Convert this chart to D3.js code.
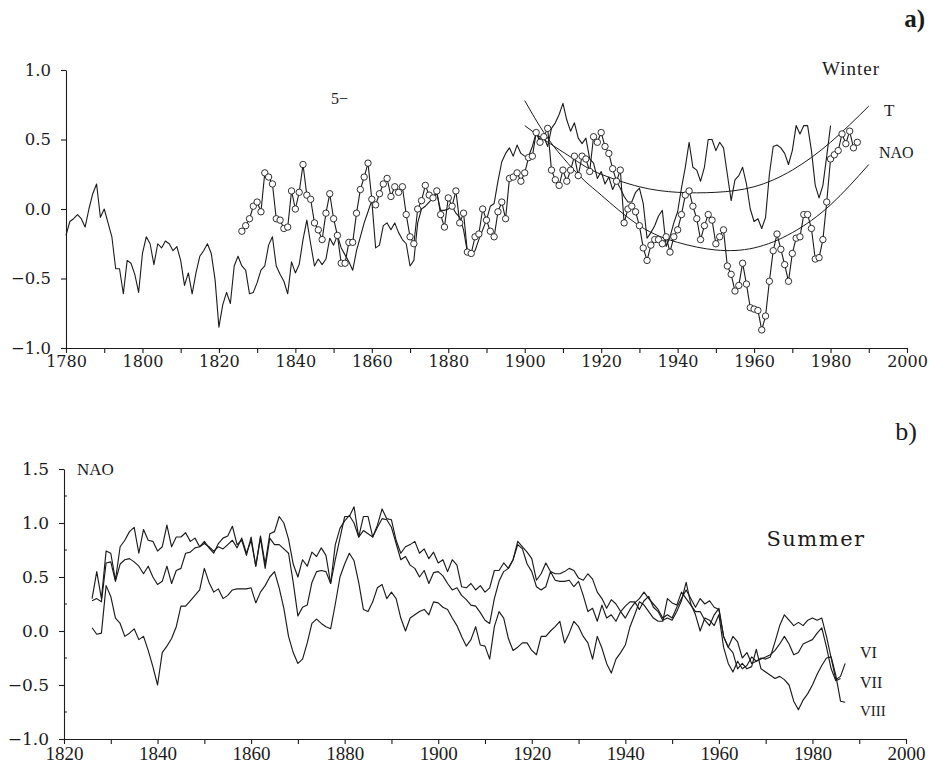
<!DOCTYPE html>
<html>
<head>
<meta charset="utf-8">
<script src="https://cdnjs.cloudflare.com/ajax/libs/d3/7.8.5/d3.min.js"></script>
<style>
body { margin: 0; background: #fff; }
</style>
</head>
<body>
<div id="chart"></div>
<script>
// ---------- panel a) winter ----------
var tStart = 1780;
var tValues = [
    -0.19, -0.09, -0.07, -0.04, -0.07, -0.13, 0.00, 0.11, 0.18, -0.06,
    0.00, -0.10, -0.20, -0.43, -0.43, -0.61, -0.37, -0.39, -0.47, -0.60,
    -0.32, -0.20, -0.25, -0.40, -0.25, -0.28, -0.23, -0.25, -0.30, -0.27,
    -0.37, -0.55, -0.46, -0.61, -0.46, -0.34, -0.30, -0.25, -0.32, -0.51,
    -0.85, -0.69, -0.60, -0.68, -0.41, -0.34, -0.41, -0.44, -0.61, -0.60,
    -0.53, -0.44, -0.41, -0.26, -0.20, -0.41, -0.47, -0.52, -0.61, -0.38,
    -0.46, -0.40, -0.22, -0.08, -0.25, -0.41, -0.36, -0.40, -0.36, -0.21,
    -0.26, -0.19, -0.28, -0.33, -0.38, -0.44, -0.30, -0.20, -0.10, -0.02,
    0.06, -0.28, -0.26, -0.12, -0.10, -0.15, -0.10, -0.17, -0.22, -0.25,
    -0.41, -0.37, -0.10, 0.00, 0.02, 0.05, 0.08, 0.11, -0.01, -0.01,
    0.00, 0.02, -0.03, -0.06, -0.15, -0.31, -0.33, -0.30, -0.22, -0.15,
    -0.08, 0.02, 0.04, 0.20, 0.34, 0.40, 0.44, 0.38, 0.46, 0.40,
    0.38, 0.38, 0.45, 0.55, 0.50, 0.52, 0.45, 0.58, 0.62, 0.68,
    0.76, 0.64, 0.56, 0.62, 0.51, 0.47, 0.51, 0.36, 0.33, 0.22,
    0.27, 0.18, 0.23, 0.14, 0.20, 0.15, 0.09, 0.05, 0.05, 0.12,
    0.15, 0.04, -0.21, -0.17, -0.12, -0.05, -0.01, -0.27, -0.20, -0.10,
    -0.02, 0.15, 0.30, 0.48, 0.30, 0.28, 0.20, 0.30, 0.50, 0.50,
    0.42, 0.48, 0.44, 0.25, 0.06, 0.21, 0.24, 0.30, 0.18, 0.00,
    -0.09, -0.07, -0.14, -0.06, 0.25, 0.45, 0.46, 0.44, 0.40, 0.32,
    0.42, 0.60, 0.54, 0.60, 0.60, 0.42, 0.17, 0.08, 0.17, 0.38,
    0.60
];

var naoStart = 1826;
var naoValues = [
    -0.16, -0.12, -0.07, 0.02,
    0.05, -0.02, 0.26, 0.23, 0.18, -0.07, -0.08, -0.14, -0.13, 0.13,
    0.00, 0.12, 0.32, 0.10, 0.07, -0.10, -0.15, -0.22, -0.03, 0.11,
    -0.07, -0.19, -0.39, -0.39, -0.24, -0.24, -0.03, 0.14, 0.23, 0.33,
    0.07, 0.03, 0.11, 0.18, 0.22, 0.09, 0.16, 0.12, 0.16, -0.04,
    -0.20, -0.25, 0.00, 0.06, 0.17, 0.10, 0.08, 0.13, -0.04, -0.13,
    0.08, 0.02, 0.13, -0.10, -0.03, -0.31, -0.32, -0.20, -0.18, 0.00,
    -0.08, -0.16, -0.20, -0.02, 0.05, -0.07, 0.22, 0.23, 0.26, 0.20,
    0.26, 0.37, 0.38, 0.55, 0.48, 0.52, 0.58, 0.28, 0.21, 0.17,
    0.28, 0.20, 0.28, 0.38, 0.24, 0.38, 0.36, 0.27, 0.52, 0.48,
    0.55, 0.45, 0.40, 0.29, 0.20, 0.28, -0.10, 0.00, 0.02, -0.02,
    -0.12, -0.28, -0.37, -0.26, -0.22, -0.22, -0.25, -0.20, -0.31, -0.20,
    -0.15, -0.04, 0.10, 0.13, 0.02, -0.07, -0.22, -0.12, -0.04, -0.08,
    -0.25, -0.20, -0.15, -0.41, -0.47, -0.59, -0.55, -0.39, -0.54, -0.71,
    -0.72, -0.73, -0.87, -0.77, -0.52, -0.30, -0.18, -0.29, -0.40, -0.52,
    -0.32, -0.21, -0.20, -0.04, -0.04, -0.14, -0.36, -0.35, -0.22, 0.05,
    0.36, 0.39, 0.42, 0.54, 0.47, 0.56, 0.44, 0.48
];

// trend curves
var tTrendYears = [1900, 1905, 1910, 1915, 1920, 1930, 1940, 1950, 1960, 1970, 1980, 1990];
var tTrendValues = [0.60, 0.50, 0.41, 0.32, 0.25, 0.16, 0.12, 0.12, 0.16, 0.28, 0.48, 0.74];
var naoTrendYears = [1900, 1905, 1910, 1915, 1920, 1930, 1940, 1950, 1960, 1970, 1980, 1990];
var naoTrendValues = [0.78, 0.55, 0.37, 0.22, 0.10, -0.12, -0.24, -0.295, -0.28, -0.17, 0.03, 0.32];

var aYearTicks = [1780, 1790, 1800, 1810, 1820, 1830, 1840, 1850, 1860, 1870, 1880,
    1890, 1900, 1910, 1920, 1930, 1940, 1950, 1960, 1970, 1980, 1990, 2000];
var aValueTicks = [-1.0, -0.5, 0.0, 0.5, 1.0];

// ---------- panel b) summer ----------
var sumStart = 1826;
var viValues = [
    0.30, 0.55, 0.30, 0.74,
    0.72, 0.47, 0.78, 0.84, 0.92, 0.96, 0.72, 0.94, 0.84, 0.83,
    0.74, 0.78, 0.98, 0.78, 0.87, 0.87, 0.91, 0.83, 0.86, 0.78,
    0.83, 0.77, 0.72, 0.81, 0.86, 0.88, 0.97, 0.80, 0.84, 0.70,
    0.87, 0.60, 0.88, 0.62, 0.90, 0.92, 1.06, 1.00, 0.85, 0.62,
    0.50, 0.66, 0.60, 0.73, 0.69, 0.77, 0.70, 0.44, 0.66, 0.86,
    1.06, 1.06, 1.15, 0.87, 1.06, 1.06, 0.87, 0.98, 1.13, 1.04,
    1.03, 0.84, 0.72, 0.78, 0.80, 0.83, 0.72, 0.76, 0.67, 0.73,
    0.63, 0.66, 0.55, 0.66, 0.61, 0.41, 0.40, 0.44, 0.38, 0.42,
    0.36, 0.40, 0.56, 0.56, 0.63, 0.58, 0.66, 0.83, 0.78, 0.73,
    0.67, 0.47, 0.53, 0.63, 0.55, 0.53, 0.53, 0.55, 0.58, 0.56,
    0.49, 0.47, 0.53, 0.48, 0.36, 0.30, 0.21, 0.29, 0.25, 0.18,
    0.12, 0.20, 0.26, 0.30, 0.36, 0.30, 0.25, 0.20, 0.12, 0.15,
    0.12, 0.22, 0.30, 0.38, 0.30, 0.22, 0.30, 0.25, 0.28, 0.22,
    0.20, -0.05, -0.15, -0.05, -0.10, -0.25, -0.20, -0.30, -0.28, -0.25,
    -0.26, -0.24, -0.10, 0.05, 0.15, 0.10, 0.05, 0.08, 0.05, 0.10,
    0.12, 0.10, 0.12, -0.05, -0.25, -0.45, -0.42, -0.30
];
var viiValues = [
    0.28, 0.30, 0.27, 0.63,
    0.64, 0.46, 0.62, 0.66, 0.67, 0.64, 0.60, 0.53, 0.60, 0.50,
    0.43, 0.46, 0.60, 0.44, 0.56, 0.58, 0.72, 0.73, 0.77, 0.78,
    0.81, 0.78, 0.74, 0.78, 0.76, 0.80, 0.84, 0.77, 0.86, 0.72,
    0.84, 0.60, 0.86, 0.58, 0.86, 0.80, 0.80, 0.76, 0.72, 0.45,
    0.14, 0.22, 0.24, 0.45, 0.55, 0.56, 0.55, 0.44, 0.80, 0.95,
    1.02, 1.07, 1.00, 0.87, 0.93, 0.90, 0.87, 0.96, 1.04, 1.03,
    0.96, 0.81, 0.66, 0.69, 0.61, 0.58, 0.50, 0.56, 0.44, 0.54,
    0.55, 0.51, 0.44, 0.38, 0.40, 0.33, 0.29, 0.24, 0.23, 0.17,
    0.10, 0.07, 0.30, 0.46, 0.55, 0.58, 0.66, 0.80, 0.76, 0.62,
    0.55, 0.41, 0.38, 0.41, 0.55, 0.47, 0.46, 0.46, 0.47, 0.41,
    0.46, 0.33, 0.18, 0.21, 0.09, 0.24, 0.12, 0.15, 0.09, 0.18,
    0.23, 0.27, 0.27, 0.20, 0.28, 0.32, 0.22, 0.18, 0.10, 0.12,
    0.10, 0.18, 0.28, 0.45, 0.25, 0.15, 0.00, 0.12, 0.10, 0.05,
    0.15, -0.15, -0.30, -0.38, -0.28, -0.35, -0.32, -0.24, -0.28, -0.26,
    -0.24, -0.22, -0.18, -0.12, -0.05, -0.12, -0.22, -0.20, -0.12, -0.10,
    -0.08, -0.02, 0.03, -0.15, -0.35, -0.46, -0.44
];
var viiiValues = [
    0.03, -0.03, -0.02, 0.42,
    0.32, 0.12, 0.07, -0.05, -0.02, 0.02, -0.08, -0.05, -0.18, -0.33,
    -0.50, -0.20, -0.14, -0.07, 0.04, 0.23, 0.23, 0.28, 0.33, 0.38,
    0.58, 0.45, 0.36, 0.39, 0.30, 0.33, 0.38, 0.39, 0.39, 0.39,
    0.40, 0.26, 0.36, 0.42, 0.50, 0.55, 0.40, 0.21, -0.05, -0.20,
    -0.30, -0.26, -0.11, 0.07, 0.11, 0.07, 0.04, 0.02, 0.25, 0.50,
    0.62, 0.72, 0.65, 0.45, 0.20, 0.18, 0.27, 0.40, 0.43, 0.30,
    0.36, 0.30, 0.12, 0.00, 0.12, 0.15, 0.18, 0.20, 0.15, 0.27,
    0.26, 0.22, 0.20, 0.12, 0.05, -0.05, -0.14, -0.08, 0.04, -0.13,
    -0.14, -0.26, 0.04, 0.18, 0.12, -0.07, -0.18, -0.15, -0.11, -0.11,
    -0.18, -0.22, -0.05, -0.05, 0.00, 0.04, 0.09, -0.11, -0.02, 0.09,
    0.04, -0.05, -0.11, -0.26, -0.05, -0.16, -0.30, -0.39, -0.26, -0.20,
    -0.13, 0.04, 0.15, 0.27, 0.24, 0.18, 0.12, 0.09, 0.09, 0.30,
    0.26, 0.24, 0.36, 0.30, 0.24, 0.18, 0.18, 0.10, 0.05, 0.15,
    0.21, -0.05, -0.15, -0.20, -0.35, -0.30, -0.35, -0.33, -0.17, -0.35,
    -0.38, -0.41, -0.44, -0.42, -0.45, -0.50, -0.65, -0.73, -0.64, -0.58,
    -0.50, -0.40, -0.32, -0.25, -0.24, -0.41, -0.65, -0.66
];

var bYearTicks = [1820, 1830, 1840, 1850, 1860, 1870, 1880, 1890, 1900, 1910,
    1920, 1930, 1940, 1950, 1960, 1970, 1980, 1990, 2000];
var bValueTicks = [-1.0, -0.5, 0.0, 0.5, 1.0, 1.5];
var bMinorTicks = [-0.75, -0.25, 0.25, 0.75, 1.25];

var ink = "#1b1b1b";
var serif = "'Liberation Serif', 'Times New Roman', serif";
var wideSerif = "'DejaVu Serif', serif";

var svg = d3.select("#chart").append("svg")
    .attr("width", 929)
    .attr("height", 778);
svg.append("rect").attr("width", 929).attr("height", 778).attr("fill", "#fff");

function toPoints(start, values) {
    return values.map(function(v, i) { return [start + i, v]; });
}

function zip(xs, ys) {
    return xs.map(function(x, i) { return [x, ys[i]]; });
}

function drawAxes(x, y, yearTicks, valueTicks, yearFont, yearSize, valueSize) {
    var xAxis = d3.axisBottom(x)
        .tickValues(yearTicks)
        .tickSize(5)
        .tickSizeOuter(0)
        .tickPadding(3)
        .tickFormat(function(d) { return d % 20 === 0 ? d : ""; });
    var gx = svg.append("g")
        .attr("transform", "translate(0," + y.range()[0] + ")")
        .call(xAxis);
    gx.selectAll("text").attr("font-family", yearFont).attr("font-size", yearSize).attr("fill", ink);

    var yAxis = d3.axisLeft(y)
        .tickValues(valueTicks)
        .tickSize(5)
        .tickSizeOuter(0)
        .tickPadding(10)
        .tickFormat(d3.format(".1f"));
    var gy = svg.append("g")
        .attr("transform", "translate(" + x.range()[0] + ",0)")
        .call(yAxis);
    gy.selectAll("text").attr("font-family", wideSerif).attr("font-size", valueSize).attr("fill", ink);

    svg.selectAll(".domain, .tick line").attr("stroke", ink).attr("stroke-width", 1.1);
    return gy;
}

function drawLine(x, y, pts, width, curve) {
    var line = d3.line()
        .x(function(d) { return x(d[0]); })
        .y(function(d) { return y(d[1]); });
    if (curve) line.curve(curve);
    svg.append("path")
        .datum(pts)
        .attr("d", line)
        .attr("fill", "none")
        .attr("stroke", ink)
        .attr("stroke-width", width)
        .attr("stroke-linejoin", "round");
}

function label(txt, x, y, size, opts) {
    opts = opts || {};
    return svg.append("text")
        .attr("x", x).attr("y", y)
        .attr("font-family", opts.family || serif)
        .attr("font-size", size)
        .attr("font-weight", opts.weight || "normal")
        .attr("letter-spacing", opts.spacing || 0)
        .attr("text-anchor", opts.anchor || "start")
        .attr("fill", ink)
        .text(txt);
}

// ###### PANEL A ######
var xa = d3.scaleLinear().domain([1780, 2000]).range([66, 907]);
var ya = d3.scaleLinear().domain([-1, 1]).range([348, 70]);
drawAxes(xa, ya, aYearTicks, aValueTicks, wideSerif, 16, 16.5);

drawLine(xa, ya, zip(tTrendYears, tTrendValues), 1, d3.curveNatural);
drawLine(xa, ya, zip(naoTrendYears, naoTrendValues), 1, d3.curveNatural);
drawLine(xa, ya, toPoints(tStart, tValues), 1.1);

var naoPts = toPoints(naoStart, naoValues);
drawLine(xa, ya, naoPts, 1.1);
svg.append("g").selectAll("circle")
    .data(naoPts)
    .enter().append("circle")
    .attr("cx", function(d) { return xa(d[0]); })
    .attr("cy", function(d) { return ya(d[1]); })
    .attr("r", 3.2)
    .attr("fill", "#fff")
    .attr("stroke", ink)
    .attr("stroke-width", 0.9);

label("a)", 925, 27, 25, {anchor: "end", weight: "bold"});
label("Winter", 880, 75, 19, {anchor: "end", spacing: 1});
label("5\u2212", 331, 104, 16);
label("T", 884, 116, 17);
label("NAO", 879, 158, 16);

// ###### PANEL B ######
var xb = d3.scaleLinear().domain([1820, 2000]).range([64, 906]);
var yb = d3.scaleLinear().domain([-1, 1.5]).range([739, 469]);
var gyb = drawAxes(xb, yb, bYearTicks, bValueTicks, serif, 19, 17);

// minor ticks on the value axis
gyb.selectAll(".minor")
    .data(bMinorTicks)
    .enter().append("line")
    .attr("class", "minor")
    .attr("x1", 0).attr("x2", 3)
    .attr("y1", function(d) { return yb(d); })
    .attr("y2", function(d) { return yb(d); })
    .attr("stroke", ink)
    .attr("stroke-width", 1);

drawLine(xb, yb, toPoints(sumStart, viiiValues), 1.15);
drawLine(xb, yb, toPoints(sumStart, viiValues), 1.15);
drawLine(xb, yb, toPoints(sumStart, viValues), 1.15);

label("b)", 917, 440, 26, {anchor: "end"});
label("NAO", 77, 475, 17);
label("Summer", 816, 546, 21, {anchor: "middle", family: wideSerif, spacing: 1.5});
label("VI", 860, 658, 16);
label("VII", 860, 688, 16);
label("VIII", 860, 716, 15);
</script>
</body>
</html>
